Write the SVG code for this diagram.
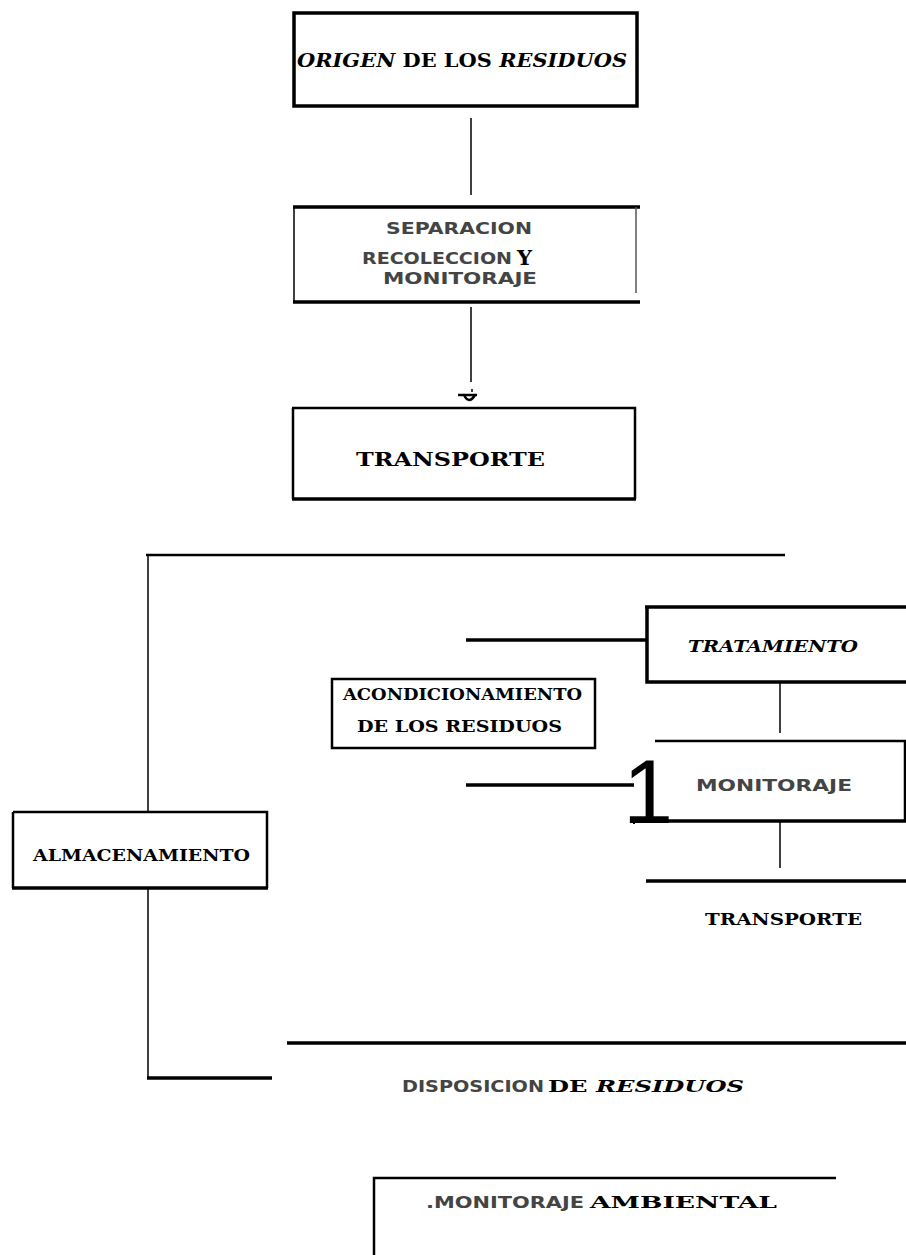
<svg xmlns="http://www.w3.org/2000/svg" width="906" height="1255" viewBox="0 0 906 1255">
<style>
.b{font-family:"DejaVu Serif","Liberation Serif",serif;font-weight:bold;fill:#000}
.i{font-style:italic}
.s{font-family:"DejaVu Sans","Liberation Sans",sans-serif;font-weight:bold;fill:#444}
.thin{stroke:#000;stroke-width:1.5;fill:none}
.thick{stroke:#000;stroke-width:3.5;fill:none}
.med{stroke:#000;stroke-width:2.5;fill:none}
</style>
<rect width="906" height="1255" fill="#fff"/>
<g id="connectors">
<line class="thin" x1="471" y1="118" x2="471" y2="195"/>
<line class="thin" x1="471" y1="307" x2="471" y2="382"/>
<line class="thin" x1="472" y1="389" x2="472" y2="392"/>
<path class="med" d="M458 395 H477 M464 395 Q469 405 475 395"/>
<line class="med" x1="146" y1="555" x2="785" y2="555"/>
<line class="thin" x1="148" y1="555" x2="148" y2="812"/>
<line class="thick" x1="466" y1="640" x2="647" y2="640"/>
<line class="thin" x1="780" y1="682" x2="780" y2="733"/>
<line class="thick" x1="466" y1="785" x2="634" y2="785"/>
<line class="thin" x1="780" y1="822" x2="780" y2="868"/>
<line class="thick" x1="646" y1="881" x2="906" y2="881"/>
<line class="thin" x1="148" y1="888" x2="148" y2="1078"/>
<line class="thick" x1="147" y1="1078" x2="272" y2="1078"/>
<line class="thick" x1="287" y1="1043" x2="906" y2="1043"/>
</g>
<g id="origen">
<rect class="thick" x="294" y="13" width="343" height="93"/>
<text class="b" x="297" y="67" font-size="18" textLength="330" lengthAdjust="spacingAndGlyphs"><tspan class="i">ORIGEN</tspan> DE LOS <tspan class="i">RESIDUOS</tspan></text>
</g>
<g id="separacion">
<path class="thick" d="M293 207 H640 M293 302 H640"/>
<line class="thin" x1="294" y1="207" x2="294" y2="302"/>
<line x1="636" y1="207" x2="636" y2="293" stroke="#555" stroke-width="1.5"/>
<text class="s" x="386" y="234" font-size="16" textLength="146" lengthAdjust="spacingAndGlyphs">SEPARACION</text>
<text class="s" x="362" y="264" font-size="16" textLength="150" lengthAdjust="spacingAndGlyphs">RECOLECCION</text>
<text class="b" x="517" y="265" font-size="21">Y</text>
<text class="s" x="383" y="284" font-size="16" textLength="154" lengthAdjust="spacingAndGlyphs">MONITORAJE</text>
</g>
<g id="transporte1">
<path class="med" d="M292 408 H635 V499 M293 408 V499"/>
<line class="thick" x1="292" y1="499" x2="636" y2="499"/>
<text class="b" x="356" y="466" font-size="18" textLength="189" lengthAdjust="spacingAndGlyphs">TRANSPORTE</text>
</g>
<g id="tratamiento">
<path class="thick" d="M645 607 H906 M647 607 V682 H906"/>
<text class="b i" x="688" y="652" font-size="17" textLength="170" lengthAdjust="spacingAndGlyphs">TRATAMIENTO</text>
</g>
<g id="acondicionamiento">
<rect class="med" x="332" y="679" width="263" height="69"/>
<text class="b" x="343" y="700" font-size="17" textLength="239" lengthAdjust="spacingAndGlyphs">ACONDICIONAMIENTO</text>
<text class="b" x="357" y="732" font-size="17" textLength="205" lengthAdjust="spacingAndGlyphs">DE LOS RESIDUOS</text>
</g>
<g id="monitoraje">
<path class="med" d="M655 741 H906 M905 741 V822"/>
<line class="thick" x1="655" y1="821" x2="906" y2="821"/>
<text x="623" y="823" font-family="Liberation Sans, sans-serif" font-size="90" fill="#000">1</text>
<rect x="633" y="822" width="2" height="2" fill="#000"/>
<text class="s" x="696" y="791" font-size="16" textLength="156" lengthAdjust="spacingAndGlyphs">MONITORAJE</text>
</g>
<g id="transporte2">
<text class="b" x="705" y="925" font-size="17" textLength="157" lengthAdjust="spacingAndGlyphs">TRANSPORTE</text>
</g>
<g id="almacenamiento">
<path class="med" d="M13 812 H267 V888 M13 812 V888"/>
<line class="thick" x1="12" y1="888" x2="268" y2="888"/>
<text class="b" x="33" y="861" font-size="17" textLength="217" lengthAdjust="spacingAndGlyphs">ALMACENAMIENTO</text>
</g>
<g id="disposicion">
<text class="s" x="402" y="1092" font-size="16" textLength="142" lengthAdjust="spacingAndGlyphs">DISPOSICION</text>
<text class="b" x="548" y="1092" font-size="17" textLength="196" lengthAdjust="spacingAndGlyphs">DE <tspan class="i">RESIDUOS</tspan></text>
</g>
<g id="monitoraje-ambiental">
<path class="med" d="M374 1255 V1178 H836"/>
<text class="s" x="426" y="1208" font-size="16" textLength="158" lengthAdjust="spacingAndGlyphs">.MONITORAJE</text>
<text class="b" x="590" y="1208" font-size="17" textLength="187" lengthAdjust="spacingAndGlyphs">AMBIENTAL</text>
</g>
</svg>
